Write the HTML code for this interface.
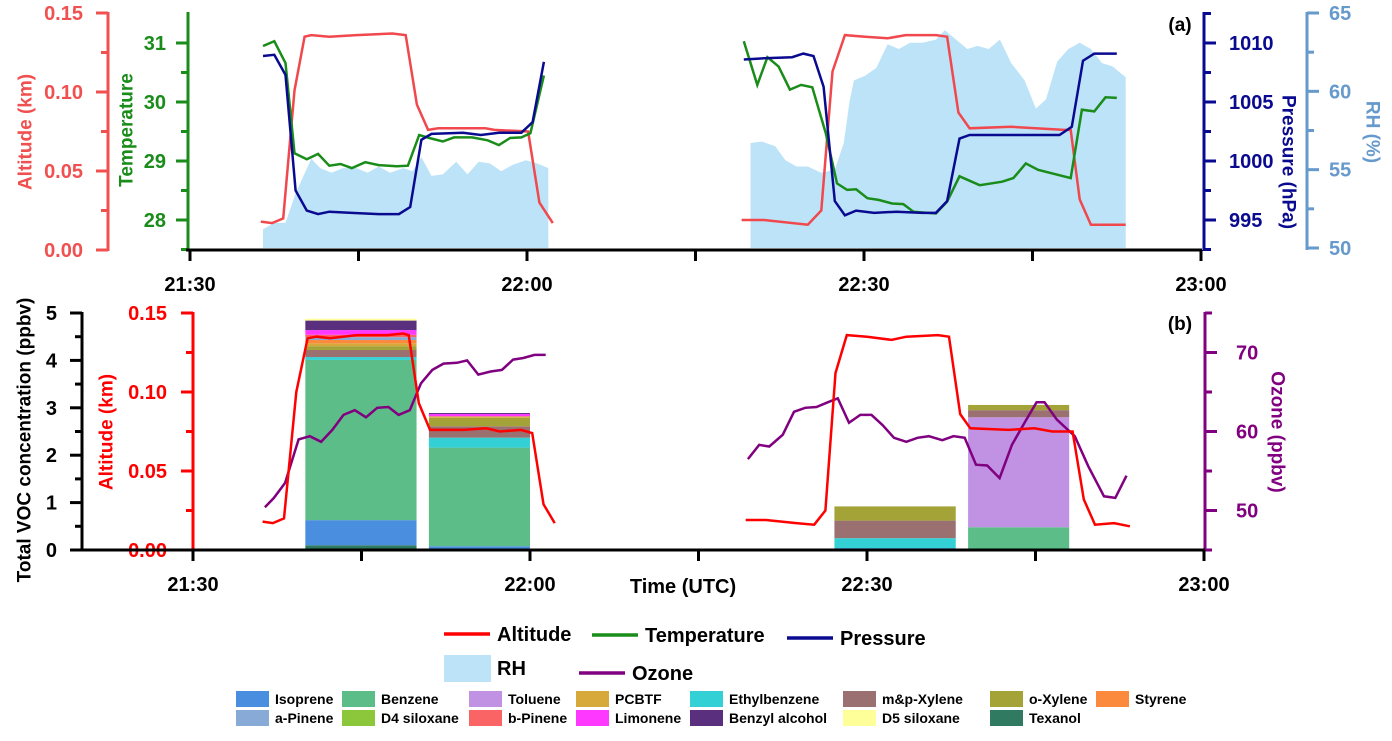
<!DOCTYPE html>
<html><head><meta charset="utf-8"><style>
html,body{margin:0;padding:0;background:#fff;}
svg text{font-family:"Liberation Sans",Arial,sans-serif;font-weight:bold;}
</style></head><body>
<svg id="chart" width="1392" height="736" viewBox="0 0 1392 736" xmlns="http://www.w3.org/2000/svg"></svg>
<script>
// ---- Data (time in minutes after 21:30 UTC) ----
const altTopT=[6.3,7.3,8.3,9.3,10.2,10.8,12.4,14.8,18.0,19.2,20.2,21.2,22.1,26.3,27.1,30.1,31.1,32.3,null,49.1,51.1,55.0,56.2,57.2,58.3,60.1,62.1,63.7,66.4,67.4,68.4,69.4,73.1,77.8,78.4,79.2,80.2,83.3];
const altTopV=[0.018,0.017,0.020,0.101,0.135,0.136,0.135,0.136,0.137,0.136,0.092,0.076,0.077,0.077,0.076,0.075,0.030,0.017,null,0.019,0.019,0.016,0.025,0.113,0.136,0.135,0.134,0.136,0.136,0.135,0.087,0.077,0.078,0.076,0.076,0.032,0.016,0.016];
const tempT=[6.5,7.5,8.5,9.3,10.4,11.4,12.4,13.4,14.4,15.6,16.8,18.4,19.4,20.4,21.3,22.5,23.5,25.1,26.5,27.5,28.5,29.5,30.3,31.5,null,49.3,50.5,51.4,52.4,53.4,54.4,55.4,56.6,57.6,58.5,59.3,60.3,61.3,62.5,63.5,64.4,66.4,67.4,68.5,70.3,72.3,73.3,74.4,75.5,78.4,79.4,80.5,81.5,82.5];
const tempV=[30.95,31.03,30.66,29.13,29.03,29.12,28.92,28.95,28.88,28.98,28.93,28.91,28.92,29.44,29.39,29.33,29.40,29.40,29.35,29.27,29.39,29.40,29.47,30.45,null,31.03,30.29,30.76,30.60,30.21,30.29,30.25,29.47,28.62,28.51,28.52,28.37,28.34,28.28,28.27,28.14,28.11,28.31,28.74,28.59,28.65,28.71,28.96,28.85,28.71,29.87,29.84,30.08,30.07];
const presT=[6.5,7.5,8.5,9.4,10.4,11.4,12.4,14.4,16.8,18.6,19.6,20.6,21.5,24.3,25.9,27.5,29.5,30.5,31.5,null,49.3,51.1,53.6,54.6,55.5,56.4,57.4,58.3,59.3,60.9,62.9,65.2,66.4,67.4,68.5,69.4,72.7,75.1,77.4,78.5,79.5,80.5,82.5];
const presV=[1008.9,1009.0,1007.3,997.5,995.8,995.5,995.7,995.6,995.5,995.5,996.1,1001.8,1002.3,1002.4,1002.2,1002.4,1002.4,1003.3,1008.4,null,1008.6,1008.7,1008.8,1009.1,1008.9,1006.3,996.6,995.4,995.8,995.6,995.7,995.6,995.6,996.6,1001.9,1002.2,1002.2,1002.2,1002.2,1002.9,1008.5,1009.1,1009.1];
const rh1T=[6.5,7.5,8.5,9.4,10.8,11.6,12.6,13.6,14.8,15.8,16.8,17.8,19.0,19.8,20.6,21.5,22.5,23.7,24.7,25.7,26.7,27.7,28.7,29.9,30.9,31.9];
const rh1V=[51.2,51.6,51.6,53.5,55.7,55.1,54.8,55.1,55.1,54.8,55.2,54.8,55.1,54.9,55.8,54.6,54.7,55.5,54.7,55.5,55.4,54.9,55.3,55.6,55.4,55.1];
const rh2T=[49.9,50.9,52.1,53.0,54.0,55.0,56.2,57.4,58.2,58.7,59.1,60.1,61.1,62.1,63.1,64.1,65.2,66.4,67.2,68.2,69.2,70.1,71.1,72.1,73.1,74.3,75.3,76.2,77.2,78.2,79.2,80.2,81.2,82.1,83.3];
const rh2V=[56.7,56.8,56.5,55.6,55.2,55.2,54.8,55.0,56.7,59.3,60.7,61.0,61.5,63.0,62.7,63.1,63.1,63.3,63.9,63.3,62.7,62.9,62.7,63.3,61.8,60.7,58.9,59.5,61.9,62.7,63.1,62.7,61.8,61.6,60.9];
const altBotT=[6.2,7.1,8.1,9.2,10.2,11.0,12.2,14.6,17.3,18.7,19.2,20.1,21.1,24.1,26.1,27.3,29.2,30.2,31.2,32.2,null,49.2,51.0,53.7,55.3,56.3,57.2,58.2,60.0,62.2,63.5,66.3,67.3,68.3,69.2,72.6,74.9,76.5,78.3,79.3,80.3,82.0,83.4];
const altBotV=[0.018,0.017,0.020,0.100,0.134,0.135,0.134,0.136,0.136,0.137,0.136,0.093,0.076,0.076,0.077,0.075,0.076,0.074,0.029,0.017,null,0.019,0.019,0.017,0.016,0.025,0.112,0.136,0.135,0.133,0.135,0.136,0.135,0.086,0.077,0.076,0.077,0.075,0.075,0.032,0.016,0.017,0.015];
const ozoneT=[6.4,7.2,8.2,9.4,10.4,11.4,12.4,13.4,14.4,15.4,16.4,17.4,18.3,19.3,20.3,21.3,22.3,23.5,24.4,25.4,26.5,27.5,28.5,29.4,30.4,31.4,null,49.4,50.4,51.3,52.5,53.5,54.5,55.5,56.5,57.4,58.4,59.4,60.4,61.4,62.4,63.5,64.5,65.5,66.7,67.7,68.7,69.7,70.7,71.8,72.9,74.1,75.1,75.8,76.9,78.5,79.7,81.1,82.1,83.1];
const ozoneV=[50.4,51.6,53.5,59.0,59.4,58.7,60.2,62.1,62.7,61.8,63.0,63.1,62.1,62.7,66.1,67.8,68.6,68.7,69.0,67.2,67.6,67.8,69.1,69.3,69.7,69.7,null,56.5,58.3,58.1,59.6,62.5,63.0,63.1,63.7,64.2,61.1,62.1,62.1,60.8,59.2,58.7,59.2,59.4,58.9,59.4,59.2,55.8,55.7,54.1,58.3,61.3,63.7,63.7,61.5,59.4,55.6,51.8,51.6,54.4];
// VOC bars
const barStart=[10.0,21.0,57.1,69.0];
const barEnd=[19.9,30.0,67.9,78.0];
const vocNames=["Texanol","Isoprene","Benzene","Toluene","Ethylbenzene","m&p-Xylene","o-Xylene","PCBTF","Styrene","a-Pinene","D4 siloxane","b-Pinene","Limonene","Benzyl alcohol","D5 siloxane"];
const vocColors=["#2f7a60","#4a8ee0","#5dbd88","#c192e3","#33d1d6","#9a7070","#a3a337","#d6a93a","#fb8a3c","#87aad6","#8cc63a","#fb6464","#ff38ff","#5a2f7e","#ffff99"];
const vocBar1=[0.10,0.53,3.38,0,0.06,0.15,0.08,0.06,0.07,0.06,0,0.05,0.10,0.20,0.04];
const vocBar2=[0,0.08,2.08,0,0.21,0.24,0.18,0.03,0,0,0,0,0.05,0.02,0];
const vocBar3=[0,0.04,0,0,0.21,0.37,0.30,0,0,0,0,0,0,0,0];
const vocBar4=[0,0,0.48,2.32,0,0.15,0.11,0,0,0,0,0,0,0,0];
const vocBars=[vocBar1,vocBar2,vocBar3,vocBar4];
const xTickLabels=["21:30","","22:00","","22:30","","23:00"];

const NS="http://www.w3.org/2000/svg";
const svg=document.getElementById('chart');
function el(tag,attrs,parent){const e=document.createElementNS(NS,tag);for(const k in attrs)e.setAttribute(k,attrs[k]);(parent||svg).appendChild(e);return e;}
function txt(s,x,y,attrs,parent){const e=el('text',Object.assign({x:x,y:y},attrs),parent);e.textContent=s;return e;}

// scales
const xT=t=>190+t*337/30, xB=t=>193+t*337/30;
const yAltT=a=>250-a/0.15*237, yTemp=v=>43+(31-v)*59, yPres=p=>43+(1010-p)*11.8, yRH=r=>248-(r-50)/15*235;
const yVOC=v=>550-v*47.4, yAltB=a=>550-a/0.15*237, yOz=o=>550-(o-45)/30*237;

function pathD(ts,vs,xf,yf){let d="",pen=false;for(let i=0;i<ts.length;i++){if(ts[i]===null){pen=false;continue;}d+=(pen?"L":"M")+xf(ts[i]).toFixed(1)+","+yf(vs[i]).toFixed(1);pen=true;}return d;}

// RH area
[[rh1T,rh1V],[rh2T,rh2V]].forEach(([ts,vs],k)=>{
  let d="M"+xT(ts[0])+","+yRH(50);
  for(let i=0;i<ts.length;i++)d+="L"+xT(ts[i]).toFixed(1)+","+yRH(vs[i]).toFixed(1);
  d+="L"+xT(ts[ts.length-1])+","+yRH(50)+"Z";
  const p=el('path',{d:d,fill:"#bde3f8"});
  
  
});
let p;
p=el('path',{d:pathD(altTopT,altTopV,xT,yAltT),fill:"none",stroke:"#f0484d",'stroke-width':2.5});


p=el('path',{d:pathD(tempT,tempV,xT,yTemp),fill:"none",stroke:"#1a8c1a",'stroke-width':2.5});


p=el('path',{d:pathD(presT,presV,xT,yPres),fill:"none",stroke:"#0a0a90",'stroke-width':2.5});



// Bars
vocBars.forEach((vals,b)=>{
  let cum=0;
  vals.forEach((v,i)=>{
    if(v<=0)return;
    const r=el('rect',{x:xB(barStart[b]),y:yVOC(cum+v),width:xB(barEnd[b])-xB(barStart[b]),height:yVOC(cum)-yVOC(cum+v),fill:vocColors[i]});
    
    
    cum+=v;
  });
});
p=el('path',{d:pathD(ozoneT,ozoneV,xB,yOz),fill:"none",stroke:"#800080",'stroke-width':2.5});


p=el('path',{d:pathD(altBotT,altBotV,xB,yAltB),fill:"none",stroke:"#ff0000",'stroke-width':2.5});



// Axis helper
function vAxis(name,x,y0,y1,color,ticks,yf,minor,dir,labelX,anchor,fmt){
  const g=el('g',{});
  
  
  el('line',{x1:x,y1:y0,x2:x,y2:y1,stroke:color,'stroke-width':3},g);
  ticks.forEach(v=>{const y=yf(v);el('line',{x1:x,y1:y,x2:x+dir*12,y2:y,stroke:color,'stroke-width':3},g);
    const t=txt(fmt(v),labelX,y+7,{fill:color,'font-size':20,'text-anchor':anchor},g);
    
    });
  minor.forEach(v=>{const y=yf(v);el('line',{x1:x,y1:y,x2:x+dir*7,y2:y,stroke:color,'stroke-width':3},g);});
  return g;
}
vAxis('altitude-axis-top',108,12,251,"#f05050",[0,0.05,0.10,0.15],yAltT,[0.025,0.075,0.125],-1,83,'end',v=>v.toFixed(2));
vAxis('temperature-axis',188,12,251,"#1a8c1a",[28,29,30,31],yTemp,[27.5,28.5,29.5,30.5],-1,166,'end',v=>v);
vAxis('pressure-axis',1204,12,251,"#0a0a90",[995,1000,1005,1010],yPres,[992.5,997.5,1002.5,1007.5,1012.5],1,1229,'start',v=>v);
vAxis('rh-axis',1307,12,250,"#6699cc",[50,55,60,65],yRH,[52.5,57.5,62.5],1,1329,'start',v=>v);
vAxis('voc-axis',82,312,551,"#000",[0,1,2,3,4,5],yVOC,[0.5,1.5,2.5,3.5,4.5],-1,57,'end',v=>v);
vAxis('altitude-axis-bottom',193,312,551,"#ff0000",[0,0.05,0.10,0.15],yAltB,[0.025,0.075,0.125],-1,167,'end',v=>v.toFixed(2));
vAxis('ozone-axis',1205,312,551,"#800080",[50,60,70],yOz,[45,55,65,75],1,1236,'start',v=>v);

function xAxis(name,y,x0,xf){
  const g=el('g',{});
  
  
  el('line',{x1:x0,y1:y,x2:xf(90)+1,y2:y,stroke:"#000",'stroke-width':3},g);
  xTickLabels.forEach((l,i)=>{const x=xf(i*15);el('line',{x1:x,y1:y,x2:x,y2:y+11,stroke:"#000",'stroke-width':3},g);
    if(l)txt(l,x,y+41,{'font-size':20,'text-anchor':'middle',fill:'#000'},g);});
}
xAxis('x-axis-top',250,186,xT);
xAxis('x-axis-bottom',550,81,xB);

function rot(s,x,y,deg,color,name){const t=txt(s,x,y,{fill:color,'font-size':19,'text-anchor':'middle','dominant-baseline':'central',transform:`rotate(${deg} ${x} ${y})`});
  
  }
rot("Altitude (km)",26,132,-90,"#f05050",'altitude-title-top');
rot("Temperature",127,130,-90,"#1a8c1a",'temperature-title');
rot("Pressure (hPa)",1288,162,90,"#0a0a90",'pressure-title');
rot("RH (%)",1372,132,90,"#6699cc",'rh-title');
rot("Total VOC concentration (ppbv)",25,440,-90,"#000",'voc-title');
rot("Altitude (km)",107,432,-90,"#ff0000",'altitude-title-bottom');
rot("Ozone (ppbv)",1277,432,90,"#800080",'ozone-title');
let t;
t=txt("Time (UTC)",683,593,{'font-size':20,'text-anchor':'middle'});


t=txt("(a)",1180,31,{'font-size':19,'text-anchor':'middle'});


t=txt("(b)",1180,330,{'font-size':19,'text-anchor':'middle'});



// Legend lines
const lg=el('g',{});


function legLine(x,y,color,label,name){const g=el('g',{},lg);
  
  
  el('line',{x1:x,y1:y,x2:x+46,y2:y,stroke:color,'stroke-width':3.5},g);
  txt(label,x+53,y+7,{'font-size':20},g);}
legLine(444,634,"#ff0000","Altitude",'legend-altitude');
legLine(592,635,"#1a8c1a","Temperature",'legend-temperature');
legLine(787,638,"#0a0a90","Pressure",'legend-pressure');
legLine(579,673,"#800080","Ozone",'legend-ozone');
let rg=el('g',{},lg);


el('rect',{x:444,y:655,width:47,height:27,fill:"#bde3f8"},rg);
txt("RH",497,675,{'font-size':20},rg);

const legOrder=["Isoprene","Benzene","Toluene","PCBTF","Ethylbenzene","m&p-Xylene","o-Xylene","Styrene","a-Pinene","D4 siloxane","b-Pinene","Limonene","Benzyl alcohol","D5 siloxane","Texanol"];
const colX=[236,342,469,576,690,843,990,1096];
legOrder.forEach((n,i)=>{
  const c=vocColors[vocNames.indexOf(n)];
  const row=Math.floor(i/8),col=i%8;
  const x=colX[col],y=691+row*19;
  const g=el('g',{},lg);
  
  
  el('rect',{x:x,y:y,width:33,height:16,fill:c},g);
  txt(n,x+39,y+13,{'font-size':14},g);
});
</script>
</body></html>
